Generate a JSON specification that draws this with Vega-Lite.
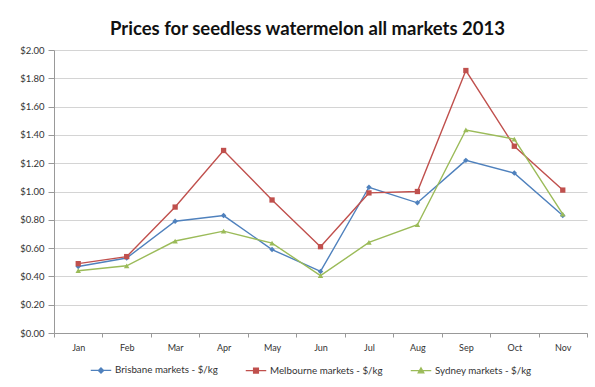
{
  "$schema": "https://vega.github.io/schema/vega-lite/v6.json",
  "width": 533,
  "height": 283,
  "autosize": {"type": "none"},
  "padding": {"left": 54, "top": 50, "right": 8, "bottom": 54},
  "background": "white",
  "config": {"view": {"stroke": null}, "font": "Lato"},
  "title": {
    "text": "Prices for seedless watermelon all markets 2013",
    "font": "Lato",
    "fontSize": 18.5,
    "fontWeight": "bold",
    "color": "#111111",
    "anchor": "middle",
    "frame": "group",
    "dx": -13,
    "offset": 7
  },
  "data": {
    "values": [
      {"month": "Jan", "series": "Brisbane markets - $/kg", "price": 0.47},
      {"month": "Feb", "series": "Brisbane markets - $/kg", "price": 0.53},
      {"month": "Mar", "series": "Brisbane markets - $/kg", "price": 0.79},
      {"month": "Apr", "series": "Brisbane markets - $/kg", "price": 0.83},
      {"month": "May", "series": "Brisbane markets - $/kg", "price": 0.59},
      {"month": "Jun", "series": "Brisbane markets - $/kg", "price": 0.435},
      {"month": "Jul", "series": "Brisbane markets - $/kg", "price": 1.03},
      {"month": "Aug", "series": "Brisbane markets - $/kg", "price": 0.92},
      {"month": "Sep", "series": "Brisbane markets - $/kg", "price": 1.22},
      {"month": "Oct", "series": "Brisbane markets - $/kg", "price": 1.13},
      {"month": "Nov", "series": "Brisbane markets - $/kg", "price": 0.83},
      {"month": "Jan", "series": "Melbourne markets - $/kg", "price": 0.49},
      {"month": "Feb", "series": "Melbourne markets - $/kg", "price": 0.54},
      {"month": "Mar", "series": "Melbourne markets - $/kg", "price": 0.89},
      {"month": "Apr", "series": "Melbourne markets - $/kg", "price": 1.29},
      {"month": "May", "series": "Melbourne markets - $/kg", "price": 0.94},
      {"month": "Jun", "series": "Melbourne markets - $/kg", "price": 0.61},
      {"month": "Jul", "series": "Melbourne markets - $/kg", "price": 0.99},
      {"month": "Aug", "series": "Melbourne markets - $/kg", "price": 1.0},
      {"month": "Sep", "series": "Melbourne markets - $/kg", "price": 1.855},
      {"month": "Oct", "series": "Melbourne markets - $/kg", "price": 1.32},
      {"month": "Nov", "series": "Melbourne markets - $/kg", "price": 1.01},
      {"month": "Jan", "series": "Sydney markets - $/kg", "price": 0.44},
      {"month": "Feb", "series": "Sydney markets - $/kg", "price": 0.475},
      {"month": "Mar", "series": "Sydney markets - $/kg", "price": 0.65},
      {"month": "Apr", "series": "Sydney markets - $/kg", "price": 0.72},
      {"month": "May", "series": "Sydney markets - $/kg", "price": 0.635},
      {"month": "Jun", "series": "Sydney markets - $/kg", "price": 0.405},
      {"month": "Jul", "series": "Sydney markets - $/kg", "price": 0.64},
      {"month": "Aug", "series": "Sydney markets - $/kg", "price": 0.765},
      {"month": "Sep", "series": "Sydney markets - $/kg", "price": 1.435},
      {"month": "Oct", "series": "Sydney markets - $/kg", "price": 1.37},
      {"month": "Nov", "series": "Sydney markets - $/kg", "price": 0.84}
    ]
  },
  "encoding": {
    "x": {
      "field": "month",
      "type": "nominal",
      "sort": ["Jan", "Feb", "Mar", "Apr", "May", "Jun", "Jul", "Aug", "Sep", "Oct", "Nov"],
      "scale": {"type": "band", "paddingInner": 0, "paddingOuter": 0},
      "title": null,
      "axis": {
        "labelAngle": 0,
        "tickBand": "extent",
        "tickSize": 4,
        "tickColor": "#999999",
        "domainColor": "#999999",
        "labelPadding": 6,
        "labelFont": "Lato",
        "labelFontSize": 9,
        "labelColor": "#333333",
        "grid": false
      }
    },
    "y": {
      "field": "price",
      "type": "quantitative",
      "scale": {"domain": [0, 2], "nice": false},
      "title": null,
      "axis": {
        "values": [0, 0.2, 0.4, 0.6, 0.8, 1.0, 1.2, 1.4, 1.6, 1.8, 2.0],
        "format": "$.2f",
        "tickSize": 6,
        "tickColor": "#999999",
        "domainColor": "#999999",
        "labelPadding": 4,
        "labelFont": "Lato",
        "labelFontSize": 9.5,
        "labelColor": "#333333",
        "gridColor": "#d4d4d4",
        "gridWidth": 1.2
      }
    },
    "color": {
      "field": "series",
      "type": "nominal",
      "scale": {
        "domain": ["Brisbane markets - $/kg", "Melbourne markets - $/kg", "Sydney markets - $/kg"],
        "range": ["#4F81BD", "#C0504D", "#9BBB59"]
      },
      "legend": {
        "title": null,
        "orient": "none",
        "legendX": 36,
        "legendY": 309,
        "direction": "horizontal",
        "symbolType": "M-1,0H1",
        "symbolSize": 420,
        "symbolStrokeWidth": 1.2,
        "symbolOffset": 0,
        "labelFont": "Lato",
        "labelFontSize": 9.8,
        "labelColor": "#333333",
        "labelLimit": 300,
        "labelOffset": 3,
        "columnPadding": 25,
        "encode": {
          "symbols": {
            "update": {
              "shape": {
                "signal": "datum.value === 'Brisbane markets - $/kg' ? 'M-1,0H1M0,-0.26L0.26,0L0,0.26L-0.26,0Z' : datum.value === 'Melbourne markets - $/kg' ? 'M-1,0H1M-0.24,-0.24H0.24V0.24H-0.24Z' : 'M-1,0H1M0,-0.28L0.28,0.22H-0.28Z'"
              }
            }
          }
        }
      }
    }
  },
  "layer": [
    {"mark": {"type": "line", "strokeWidth": 1.4}},
    {
      "transform": [{"filter": "datum.series === 'Brisbane markets - $/kg'"}],
      "mark": {"type": "point", "filled": true, "opacity": 1, "size": 30, "shape": "diamond"}
    },
    {
      "transform": [{"filter": "datum.series === 'Melbourne markets - $/kg'"}],
      "mark": {"type": "point", "filled": true, "opacity": 1, "size": 28, "shape": "square"}
    },
    {
      "transform": [{"filter": "datum.series === 'Sydney markets - $/kg'"}],
      "mark": {"type": "point", "filled": true, "opacity": 1, "size": 30, "shape": "triangle-up"}
    }
  ]
}
